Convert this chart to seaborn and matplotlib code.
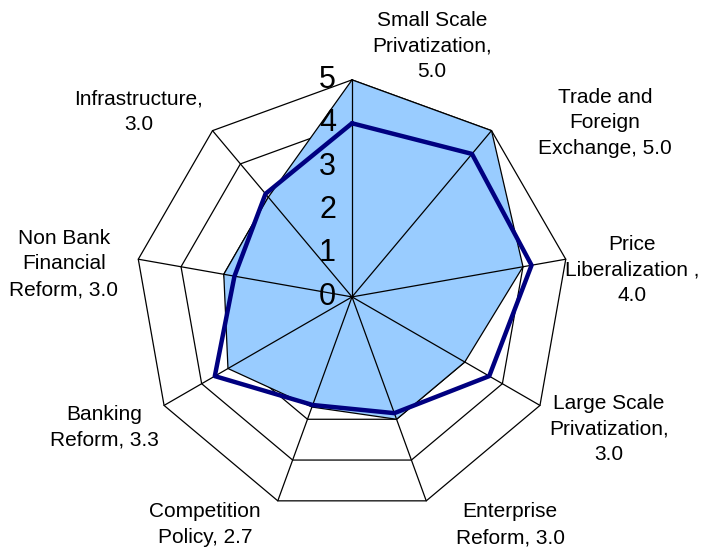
import numpy as np
import pandas as pd
import seaborn as sns
import matplotlib
matplotlib.use("Agg")
import matplotlib.pyplot as plt

# categories (clockwise from the top) and the two series
categories = ["Small Scale Privatization", "Trade and Foreign Exchange", "Price Liberalization",
              "Large Scale Privatization", "Enterprise Reform", "Competition Policy",
              "Banking Reform", "Non Bank Financial Reform", "Infrastructure"]
scores = [5.0, 5.0, 4.0, 3.0, 3.0, 2.7, 3.3, 3.0, 3.0]
comparison = [4.0, 4.3, 4.2, 3.65, 2.85, 2.65, 3.65, 2.75, 3.1]
label_text = ["Small Scale\nPrivatization,\n5.0", "Trade and\nForeign\nExchange, 5.0",
              "Price\nLiberalization ,\n4.0", "Large Scale\nPrivatization,\n3.0",
              "Enterprise\nReform, 3.0", "Competition\nPolicy, 2.7", "Banking\nReform, 3.3",
              "Non Bank\nFinancial\nReform, 3.0", "Infrastructure,\n3.0"]
rings = [1, 2, 3, 4, 5]
tick_labels = ["0", "1", "2", "3", "4", "5"]

sns.set_style("white")
plt.rcParams["font.family"] = ["Liberation Sans", "DejaVu Sans"]
plt.rcParams["text.color"] = "black"

n = len(categories)
theta = np.arange(n) * 2 * np.pi / n


def to_xy(vals):
    vals = np.asarray(vals, dtype=float)
    x = vals * np.sin(theta)
    y = vals * np.cos(theta)
    return np.append(x, x[0]), np.append(y, y[0])


fig = plt.figure(figsize=(7.01, 5.53), dpi=100)
ax = fig.add_axes([0, 0, 1, 1])
ax.set_xlim(-8.11, 8.04)
ax.set_ylim(-5.9, 6.84)
ax.axis("off")

# polygon grid
for r in rings:
    gx, gy = to_xy([r] * n)
    ax.plot(gx, gy, color="black", lw=0.9, zorder=1)

# filled series
fx, fy = to_xy(scores)
ax.fill(fx, fy, facecolor="#99CCFF", edgecolor="black", lw=0.9, zorder=2)

# spokes on top of the fill
for t in theta:
    ax.plot([0, 5 * np.sin(t)], [0, 5 * np.cos(t)], color="black", lw=0.9, zorder=3)

# comparison line
lx, ly = to_xy(comparison)
line_df = pd.DataFrame({"x": lx, "y": ly})
sns.lineplot(data=line_df, x="x", y="y", sort=False, estimator=None,
             color="#000080", lw=3.2, ax=ax, zorder=4)

# radial value labels along the top spoke
for i, t in enumerate(tick_labels):
    ax.text(-0.37, i, t, ha="right", va="center", fontsize=22, color="black", zorder=5)

# category labels
label_pos = [(1.84, 5.78), (5.83, 4.01), (6.45, 0.62), (5.92, -3.04), (3.64, -5.25),
             (-3.39, -5.25), (-5.71, -3.0), (-6.64, 0.76), (-4.91, 4.26)]
for (px, py), txt in zip(label_pos, label_text):
    ax.text(px, py, txt, ha="center", va="center", fontsize=15,
            linespacing=1.45, color="black", zorder=5)

ax.set_xlabel("")
ax.set_ylabel("")
fig.savefig("out.png", dpi=100)
